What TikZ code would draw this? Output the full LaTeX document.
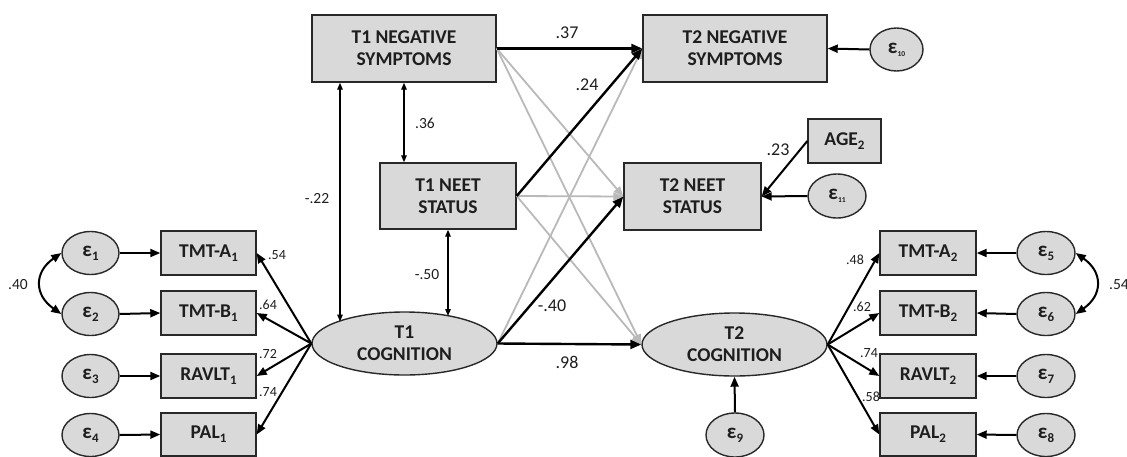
\documentclass[tikz,border=0pt]{standalone}
\usepackage{fontspec}
\setmainfont{Carlito}
\usetikzlibrary{arrows.meta,shapes.geometric}
\definecolor{boxfill}{RGB}{217,217,217}
\definecolor{boxline}{RGB}{40,40,40}
\definecolor{lightline}{RGB}{185,185,185}
\definecolor{txt}{RGB}{30,30,30}
\newcommand\lsub[1]{\raisebox{-4pt}{\fontsize{13}{13}\selectfont #1}}
\newcommand\esub[1]{\raisebox{-4pt}{\fontsize{13}{13}\selectfont #1}}
\newcommand\etiny[1]{\raisebox{-3pt}{\fontsize{7.5}{7.5}\selectfont #1}}
\begin{document}
\begin{tikzpicture}[x=1pt,y=-1pt,
  box/.style={draw=boxline, fill=boxfill, line width=1.4pt, inner sep=0pt, align=center,
    font=\fontsize{19.5}{22}\selectfont\bfseries, text=txt},
  lat/.style={ellipse, draw=boxline, fill=boxfill, line width=1.4pt, inner sep=0pt, align=center,
    font=\fontsize{19.5}{22}\selectfont\bfseries, text=txt, minimum width=185pt, minimum height=63pt},
  err/.style={ellipse, draw=boxline, fill=boxfill, line width=1.4pt, inner sep=0pt,
    font=\fontsize{21}{22}\selectfont\bfseries, text=txt, minimum width=57pt, minimum height=43pt},
  mainarr/.style={-{Triangle[length=11pt,width=9pt]}, line width=2.4pt, draw=black},
  load/.style={-{Triangle[length=10pt,width=8pt]}, line width=2pt, draw=black},
  grayarr/.style={-{Triangle[length=10pt,width=8pt]}, line width=1.8pt, draw=lightline},
  cov/.style={{Triangle[length=7pt,width=5.5pt]}-{Triangle[length=7pt,width=5.5pt]}, line width=1.4pt},
  cove/.style={{Triangle[length=10pt,width=8pt]}-{Triangle[length=10pt,width=8pt]}, line width=2pt},
  lblbig/.style={font=\fontsize{18}{18}\selectfont, text=txt, inner sep=0pt},
  lblmid/.style={font=\fontsize{15.5}{15.5}\selectfont, text=txt, inner sep=0pt},
  lblsm/.style={font=\fontsize{14}{14}\selectfont, text=txt, inner sep=0pt}
]
\path[use as bounding box] (0,0) rectangle (1127,456);

% boxes
\node[box, minimum width=184pt, minimum height=67pt] (t1ns) at (404,48.5) {T1 NEGATIVE\\SYMPTOMS};
\node[box, minimum width=136pt, minimum height=66pt] (t1neet) at (448,196) {T1 NEET\\STATUS};
\node[box, minimum width=184pt, minimum height=67pt] (t2ns) at (735,48.5) {T2 NEGATIVE\\SYMPTOMS};
\node[box, minimum width=137pt, minimum height=67pt] (t2neet) at (692.5,196.5) {T2 NEET\\STATUS};
\node[box, minimum width=73pt, minimum height=44pt] (age2) at (844.5,141) {AGE\lsub{2}};

\node[lat] (t1cog) at (404.5,343.5) {T1\\COGNITION};
\node[lat] (t2cog) at (734.5,344.5) {T2\\COGNITION};

% points on the T1 cognition ellipse where the covariance arrows end
\coordinate (c22) at (340,321.5);
\coordinate (c50) at (448,316);

% left indicators
\node[box, minimum width=95pt, minimum height=44pt] (tmta1) at (208.5,253) {TMT-A\lsub{1}};
\node[box, minimum width=95pt, minimum height=44pt] (tmtb1) at (208.5,313) {TMT-B\lsub{1}};
\node[box, minimum width=95pt, minimum height=44pt] (rav1) at (208.5,376) {RAVLT\lsub{1}};
\node[box, minimum width=95pt, minimum height=43pt] (pal1) at (208.5,434.5) {PAL\lsub{1}};

\node[err] (e1) at (90.5,253) {ε\esub{1}};
\node[err] (e2) at (90.5,314) {ε\esub{2}};
\node[err] (e3) at (90.5,376) {ε\esub{3}};
\node[err] (e4) at (90.5,435) {ε\esub{4}};

% right indicators
\node[box, minimum width=96pt, minimum height=44pt] (tmta2) at (928,253) {TMT-A\lsub{2}};
\node[box, minimum width=96pt, minimum height=44pt] (tmtb2) at (928,313) {TMT-B\lsub{2}};
\node[box, minimum width=96pt, minimum height=44pt] (rav2) at (928,376) {RAVLT\lsub{2}};
\node[box, minimum width=96pt, minimum height=43pt] (pal2) at (928,434.5) {PAL\lsub{2}};

\node[err, minimum width=58pt] (e5) at (1046,253) {ε\esub{5}};
\node[err, minimum width=58pt] (e6) at (1046,314) {ε\esub{6}};
\node[err, minimum width=58pt] (e7) at (1046,376) {ε\esub{7}};
\node[err, minimum width=58pt] (e8) at (1046,435) {ε\esub{8}};

\node[err, minimum width=58pt, minimum height=44pt] (e9) at (735,435) {ε\esub{9}};
\node[err, minimum width=53pt, minimum height=43pt] (e10) at (896.5,49.5) {ε\etiny{10}};
\node[err, minimum width=58pt, minimum height=44pt] (e11) at (837,196) {ε\etiny{11}};

% gray cross-lagged paths
\draw[grayarr] (t1ns.east) -- (t2neet.west);
\draw[grayarr] (t1ns.east) -- (t2cog.west);
\draw[grayarr] (t1neet.east) -- (t2neet.west);
\draw[grayarr] (t1neet.east) -- (t2cog.west);
\draw[grayarr] (t1cog.east) -- (t2ns.west);

% black paths
\draw[mainarr] (t1ns.east) -- (t2ns.west);
\draw[mainarr] (t1neet.east) -- (t2ns.west);
\draw[mainarr] (t1cog.east) -- (t2neet.west);
\draw[mainarr] (t1cog.east) -- (t2cog.west);

% covariances among T1
\draw[cov] (t1ns.south -| c22) -- (c22);
\draw[cov] (t1ns.south) -- (t1ns.south |- t1neet.north);
\draw[cov] (t1neet.south) -- (c50);

% residuals
\draw[load] (e10.west) -- (t2ns.east);
\draw[load] (age2.west) -- (t2neet.east);
\draw[load] (e11.west) -- (t2neet.east);
\draw[load] (e9.north) -- (t2cog.south);

% loadings
\draw[load] (t1cog.west) -- (tmta1.east);
\draw[load] (t1cog.west) -- (tmtb1.east);
\draw[load] (t1cog.west) -- (rav1.east);
\draw[load] (t1cog.west) -- (pal1.east);
\draw[load] (t2cog.east) -- (tmta2.west);
\draw[load] (t2cog.east) -- (tmtb2.west);
\draw[load] (t2cog.east) -- (rav2.west);
\draw[load] (t2cog.east) -- (pal2.west);

\draw[load] (e1.east) -- (tmta1.west);
\draw[load] (e2.east) -- (tmtb1.west);
\draw[load] (e3.east) -- (rav1.west);
\draw[load] (e4.east) -- (pal1.west);
\draw[load] (e5.west) -- (tmta2.east);
\draw[load] (e6.west) -- (tmtb2.east);
\draw[load] (e7.west) -- (rav2.east);
\draw[load] (e8.west) -- (pal2.east);

% error covariances
\draw[cove] (e1.west) to[out=215,in=145,looseness=1.4] (e2.west);
\draw[cove] (e5.east) to[out=-35,in=35,looseness=1.4] (e6.east);

% labels
\node[lblbig] (l37) at (567,33) {.37};
\node[lblbig] (l24) at (587,85) {.24};
\node[lblbig] (l40n) at (552,306) {-.40};
\node[lblbig] (l98) at (567,362) {.98};
\node[lblbig] (l23) at (778,150) {.23};
\node[lblmid] (l36) at (425,123) {.36};
\node[lblmid] (l22) at (317,199) {-.22};
\node[lblmid] (l50) at (427,275) {-.50};
\node[lblmid] (l40) at (18,285) {.40};
\node[lblmid] (l54r) at (1119,285) {.54};
\node[lblsm] (l54) at (277,255) {.54};
\node[lblsm] (l64) at (268,305) {.64};
\node[lblsm] (l72) at (268,354) {.72};
\node[lblsm] (l74) at (268,392) {.74};
\node[lblsm] (l48) at (855,260) {.48};
\node[lblsm] (l62) at (862,307) {.62};
\node[lblsm] (l74r) at (869,353) {.74};
\node[lblsm] (l58) at (871,397) {.58};
\end{tikzpicture}
\end{document}
